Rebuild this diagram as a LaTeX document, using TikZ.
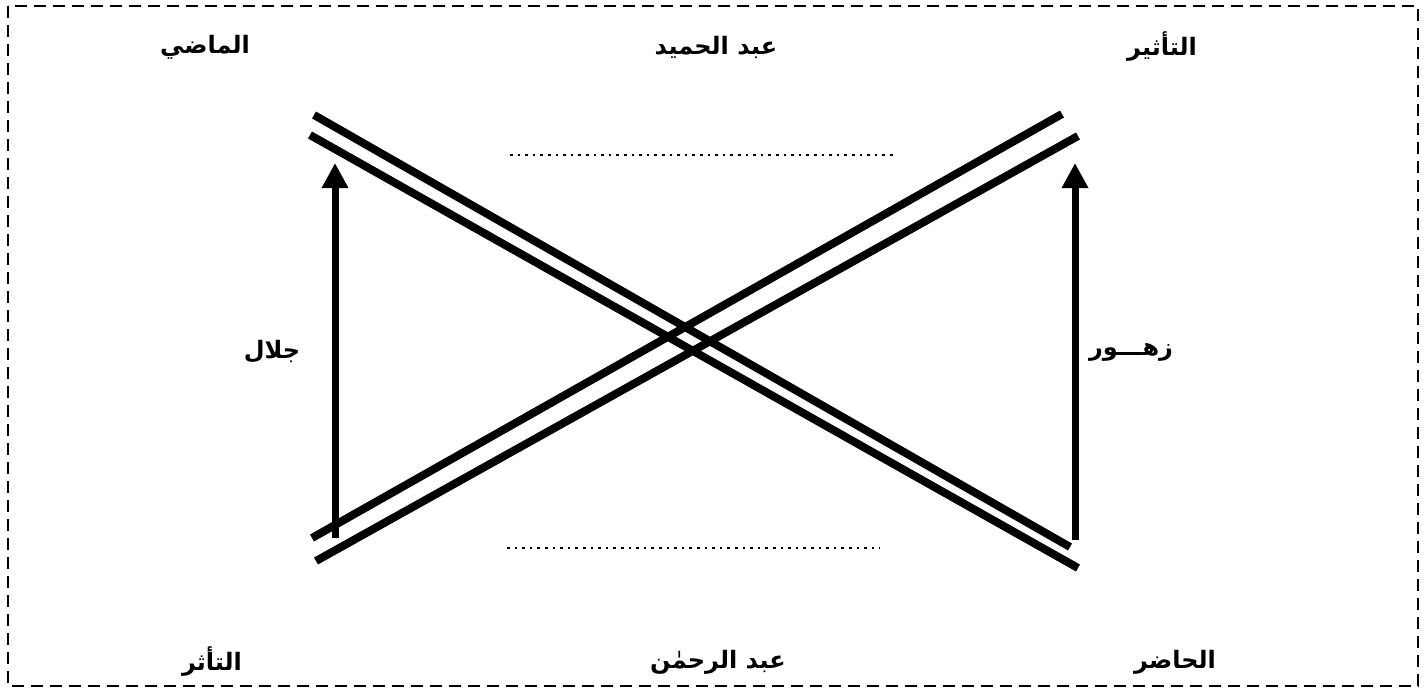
\documentclass[tikz,border=0pt]{standalone}
\usepackage{fontspec}
\newfontfamily\arabicfont[Script=Arabic]{DejaVu Sans}
\TeXXeTstate=1
\usetikzlibrary{arrows.meta}
\begin{document}
\begin{tikzpicture}[x=1pt,y=-1pt,
  frame/.style={draw=black,line width=2.5pt,dash pattern=on 12pt off 7pt},
  bar/.style={draw=black,line width=8pt},
  uparrow/.style={draw=black,line width=7pt,-{Triangle[width=25pt,length=25pt]}},
  dotline/.style={draw=black,line width=2.6pt,dash pattern=on 2.6pt off 5pt},
  lbl/.style={font=\arabicfont\bfseries\fontsize{24}{28}\selectfont,inner sep=0pt}]
\useasboundingbox (0,0) rectangle (1426,693);
\draw[frame] (8,6) rectangle (1418,686);
% labels
\node[lbl] (past) at (205,47) {\beginR الماضي\endR};
\node[lbl] (hamid) at (716,47) {\beginR عبد الحميد\endR};
\node[lbl] (influence) at (1162,47) {\beginR التأثير\endR};
\node[lbl] (jalal) at (272,352) {\beginR جلال\endR};
\node[lbl] (zuhur) at (1131,352) {\beginR زهـــور\endR};
\node[lbl] (affected) at (212,662) {\beginR التأثر\endR};
\node[lbl] (rahman) at (718,662) {\beginR عبد الرحمٰن\endR};
\node[lbl] (present) at (1175,662) {\beginR الحاضر\endR};
% crossing double lines
\coordinate (d1s) at (314,115); \coordinate (d1e) at (1070,547);
\coordinate (d2s) at (310,135); \coordinate (d2e) at (1078,568);
\coordinate (a1s) at (312,538); \coordinate (a1e) at (1062,114);
\coordinate (a2s) at (316,561); \coordinate (a2e) at (1078,136);
\draw[bar] (d1s) -- (d1e);
\draw[bar] (d2s) -- (d2e);
\draw[bar] (a1s) -- (a1e);
\draw[bar] (a2s) -- (a2e);
% arrows
\coordinate (la0) at (335,538); \coordinate (la1) at (335,163);
\coordinate (ra0) at (1075,540); \coordinate (ra1) at (1075,163);
\draw[uparrow] (la0) -- (la1);
\draw[uparrow] (ra0) -- (ra1);
% dotted lines
\coordinate (t0) at (510,155); \coordinate (t1) at (895,155);
\coordinate (b0) at (507,548); \coordinate (b1) at (880,548);
\draw[dotline] (t0) -- (t1);
\draw[dotline] (b0) -- (b1);
\end{tikzpicture}
\end{document}
